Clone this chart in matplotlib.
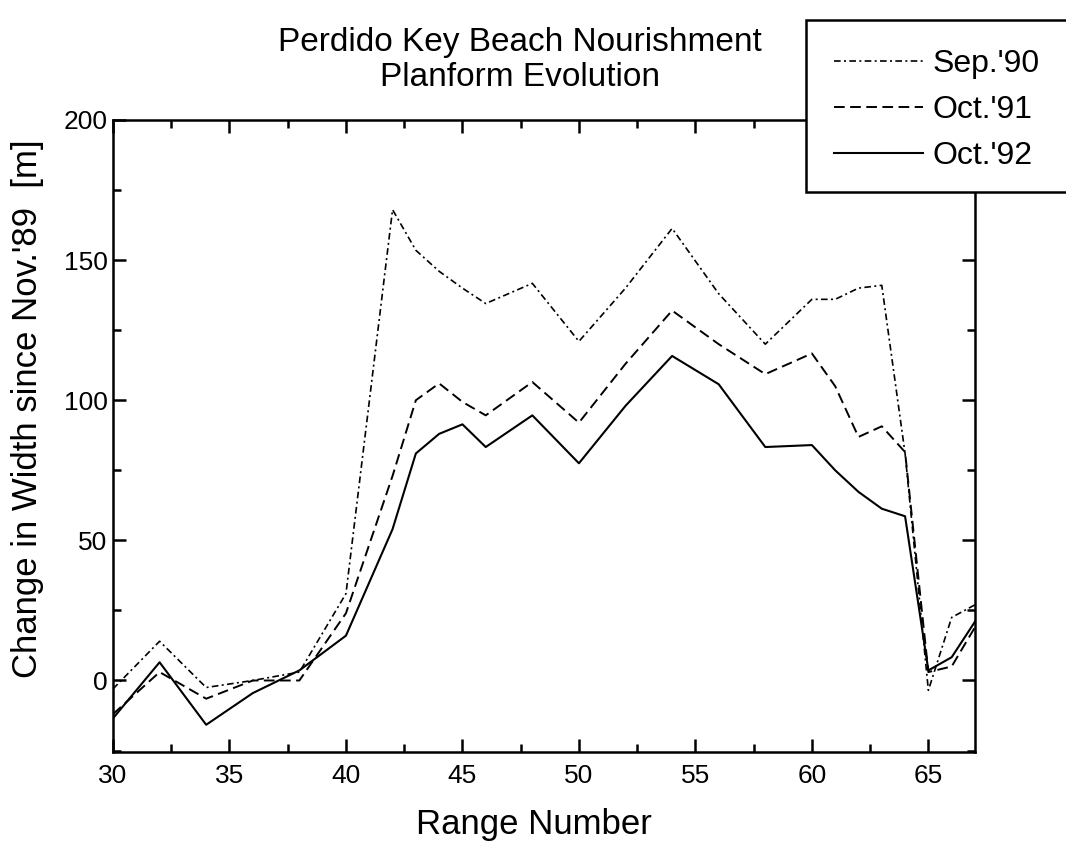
#!/usr/bin/env python3
# Perdido Key beach nourishment - planform evolution (change in width vs range)

import matplotlib
matplotlib.use('Agg')
import matplotlib.pyplot as plt
from matplotlib.patches import Rectangle
from matplotlib.ticker import MultipleLocator

plt.rcParams['font.family'] = ['Liberation Sans', 'DejaVu Sans']

ranges = [30, 32, 34, 36, 38, 40, 42, 43, 44, 45, 46, 48, 50, 52, 54, 56,
          58, 60, 61, 62, 63, 64, 65, 66, 67]
sep90 = [-3, 14, -2.5, 0, 3, 31, 168, 153.5, 146, 140, 134.5, 141.7, 121, 140,
         161.3, 138, 120, 136, 136, 140, 141, 81, -3.5, 22.5, 27]
oct91 = [-12, 3, -6.5, 0, 0, 24, 73, 100, 106, 99.4, 94.6, 106.5, 92, 113,
         132, 120, 109.3, 116.7, 105, 86.9, 90.7, 81.5, 3, 5, 19]
oct92 = [-13.5, 6.5, -15.8, -4.5, 3.6, 16, 54, 81, 88, 91.4, 83.3, 94.6, 77.5,
         98, 115.8, 105.7, 83.3, 84, 75, 67.3, 61.3, 58.6, 3.6, 8.3, 21]
labels = ["Sep.'90", "Oct.'91", "Oct.'92"]

fig = plt.figure(figsize=(10.66, 8.49), dpi=100)
ax = fig.add_axes([0.106, 0.1143, 0.8086, 0.7444])

ax.plot(ranges, sep90, color='black', lw=1.2, ls=(0, (4, 2, 1.2, 2)), label=labels[0])
ax.plot(ranges, oct91, color='black', lw=1.4, ls=(0, (5.5, 2.8)), label=labels[1])
ax.plot(ranges, oct92, color='black', lw=1.5, ls='-', label=labels[2])

ax.set_xlim(30, 67)
ax.set_ylim(-25.5, 200)
ax.xaxis.set_major_locator(MultipleLocator(5))
ax.xaxis.set_minor_locator(MultipleLocator(2.5))
ax.yaxis.set_major_locator(MultipleLocator(50))
ax.yaxis.set_minor_locator(MultipleLocator(25))
ax.tick_params(which='both', direction='in', top=True, right=True, labelsize=19)
ax.tick_params(which='major', length=9.5, width=1.8)
ax.tick_params(which='minor', length=5.5, width=1.8)
ax.tick_params(axis='x', pad=9)
ax.tick_params(axis='y', pad=4)
for s in ax.spines.values():
    s.set_linewidth(1.8)

ax.set_xlabel('Range Number', fontsize=25)
ax.set_ylabel("Change in Width since Nov.'89  [m]", fontsize=25)
ax.xaxis.set_label_coords(0.488, -0.089)
ax.yaxis.set_label_coords(-0.080, 0.543)

fig.text(0.488, 0.929, 'Perdido Key Beach Nourishment\nPlanform Evolution',
         ha='center', va='center', fontsize=24, linespacing=1.15)

# legend box, runs off the right edge like the original
box = Rectangle((806 / 1066, 1 - 192 / 849), 0.4, 172 / 849, transform=fig.transFigure,
                facecolor='white', edgecolor='black', lw=1.8, zorder=5)
fig.add_artist(box)
leg = fig.legend(loc='upper left', bbox_to_anchor=(821 / 1066, 1 - 36 / 849),
                 frameon=False, fontsize=23, handlelength=2.8, handletextpad=0.3,
                 labelspacing=0.5, borderaxespad=0)
leg.set_zorder(6)

fig.savefig('out.png', dpi=100)
